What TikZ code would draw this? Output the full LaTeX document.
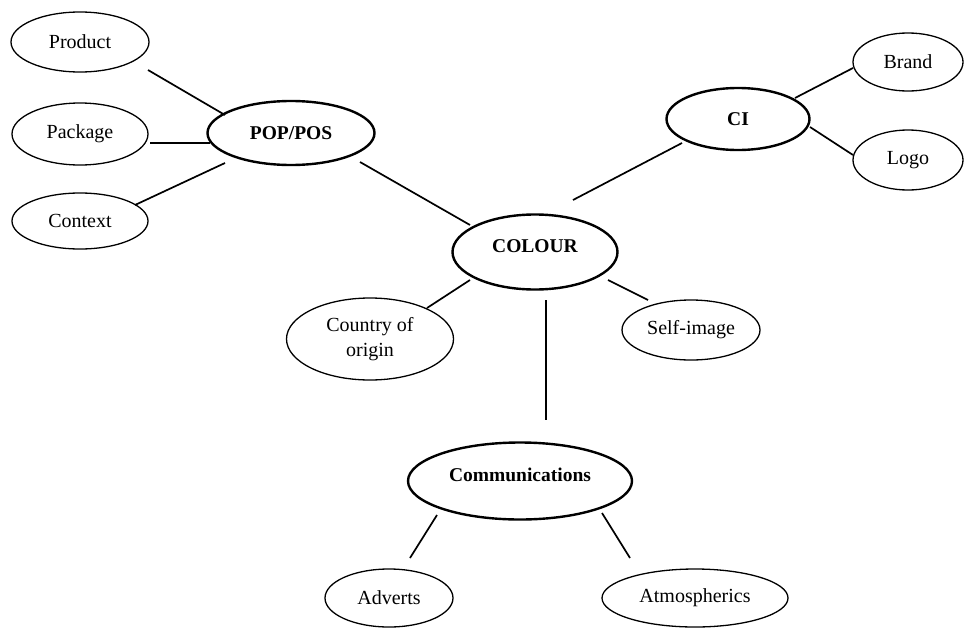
\documentclass[tikz,border=0pt]{standalone}
\usepackage{fontspec}
\setmainfont{Liberation Serif}
\usetikzlibrary{shapes.geometric}
\begin{document}
\begin{tikzpicture}[x=1pt,y=-1pt,
  oval/.style={ellipse, draw, line width=1.3pt, inner sep=0pt, font=\fontsize{20}{22}\selectfont, align=center},
  mainoval/.style={oval, line width=2.4pt, font=\fontsize{19.5}{22}\selectfont\bfseries},
  raised/.style={text height=10pt, text depth=9pt},
  link/.style={line width=1.7pt}]
\useasboundingbox[fill=white] (0,0) rectangle (968,629);
\node[oval, minimum width=138pt, minimum height=60pt] (prod) at (80,42) {Product};
\node[oval, minimum width=136pt, minimum height=62pt] (pack) at (80,134) {Package};
\node[oval, minimum width=136pt, minimum height=56pt] (ctx) at (80,221) {Context};
\node[mainoval, minimum width=167pt, minimum height=64pt] (pop) at (291,133) {POP/POS};
\node[mainoval, minimum width=143pt, minimum height=62pt] (ci) at (738,119) {CI};
\node[oval, minimum width=110pt, minimum height=58pt] (brand) at (908,62) {Brand};
\node[oval, minimum width=110pt, minimum height=60pt] (logo) at (908,160) {Logo};
\node[mainoval, raised, minimum width=165pt, minimum height=75pt] (colour) at (535,252) {COLOUR};
\node[oval, minimum width=167pt, minimum height=82pt, font=\fontsize{20}{25}\selectfont] (coo) at (370,339) {Country of\\origin};
\node[oval, minimum width=138pt, minimum height=60pt] (self) at (691,330) {Self-image};
\node[mainoval, raised, minimum width=224pt, minimum height=77pt] (comm) at (520,481) {Communications};
\node[oval, minimum width=128pt, minimum height=58pt] (adv) at (389,598) {Adverts};
\node[oval, minimum width=186pt, minimum height=58pt] (atm) at (695,598) {Atmospherics};

\draw[link] ([shift={(68,28)}]prod.center) -- ([shift={(-66,-18)}]pop.center);
\draw[link] ([shift={(70,9)}]pack.center) -- ([shift={(-81,10)}]pop.center);
\draw[link] ([shift={(55,-16)}]ctx.center) -- ([shift={(-66,30)}]pop.center);
\draw[link] ([shift={(69,29)}]pop.center) -- ([shift={(-65,-27)}]colour.center);
\draw[link] ([shift={(-56,24)}]ci.center) -- ([shift={(38,-52)}]colour.center);
\draw[link] ([shift={(57,-21)}]ci.center) -- ([shift={(-55,6)}]brand.center);
\draw[link] ([shift={(72,8)}]ci.center) -- ([shift={(-55,-5)}]logo.center);
\draw[link] ([shift={(-65,28)}]colour.center) -- ([shift={(57,-31)}]coo.center);
\draw[link] ([shift={(73,28)}]colour.center) -- ([shift={(-43,-30)}]self.center);
\draw[link] ([shift={(11,48)}]colour.center) -- ([shift={(26,-61)}]comm.center);
\draw[link] ([shift={(-83,34)}]comm.center) -- ([shift={(21,-40)}]adv.center);
\draw[link] ([shift={(82,32)}]comm.center) -- ([shift={(-65,-40)}]atm.center);
\end{tikzpicture}
\end{document}
